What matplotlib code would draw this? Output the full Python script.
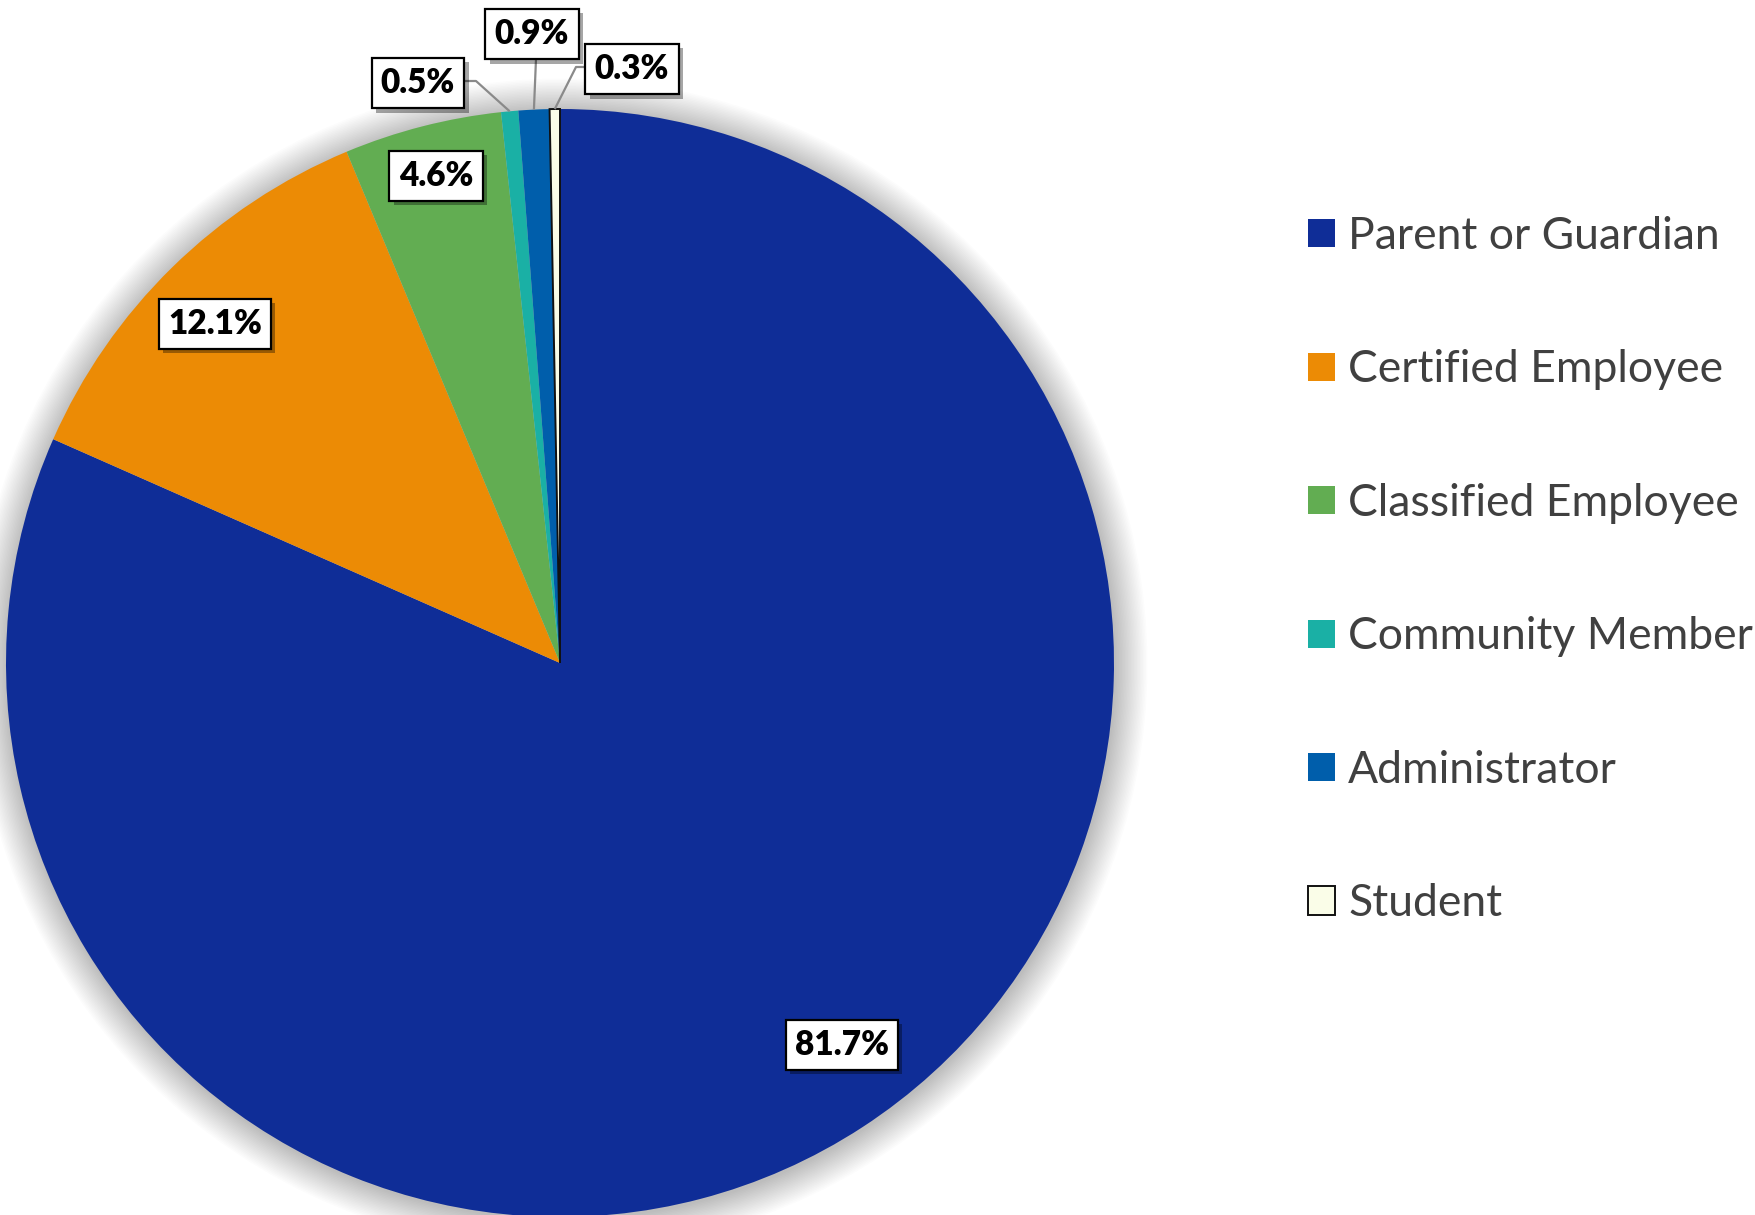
import matplotlib
matplotlib.use('Agg')
import matplotlib.pyplot as plt
from matplotlib.patches import Circle
import matplotlib.patheffects as pe
import numpy as np

categories = ["Parent or Guardian", "Certified Employee", "Classified Employee",
              "Community Member", "Administrator", "Student"]
values = [81.7, 12.1, 4.6, 0.5, 0.9, 0.3]
labels = ["81.7%", "12.1%", "4.6%", "0.5%", "0.9%", "0.3%"]
colors = ["#0F2D97", "#EC8B05", "#62AD52", "#1AB0A5", "#005EAB", "#FAFDE8"]

W, H = 1756, 1215
fig = plt.figure(figsize=(W / 100, H / 100), dpi=100)
ax = fig.add_axes([0, 0, 1, 1])

cx, cy, R = 560, H - 663, 554

# soft glow/shadow around pie
for i in range(22):
    ax.add_patch(Circle((cx + 1, cy - 2), R + 1 + i * 1.5, color='black',
                        alpha=0.010, lw=0, zorder=0))

wedges, _ = ax.pie(values, colors=colors, startangle=90, counterclock=False,
                   center=(cx, cy), radius=R, wedgeprops=dict(linewidth=0))
for w in wedges:
    w.set_zorder(2)
wedges[5].set_edgecolor('#111111')
wedges[5].set_linewidth(1.4)
wedges[5].set_zorder(3)

ax.set_xlim(0, W)
ax.set_ylim(0, H)
ax.set_aspect('equal')
ax.axis('off')

# label box centres (image coords)
label_pos = [(842, 1045), (215, 324), (436, 176), (418, 83), (532, 34), (632, 69)]
for txt, (x, y) in zip(labels, label_pos):
    t = ax.text(x, H - y, txt, ha='center', va='center', fontsize=24,
                fontweight='heavy', family='Lato', color='black', zorder=6,
                bbox=dict(boxstyle='square,pad=0.28', fc='white', ec='black', lw=1.6))
    t.get_bbox_patch().set_path_effects([
        pe.SimplePatchShadow(offset=(3, -3), shadow_rgbFace='black', alpha=0.35),
        pe.Normal()])

# leader lines for small slices
def edge_point(w):
    m = np.deg2rad((w.theta1 + w.theta2) / 2)
    return cx + R * np.cos(m), cy + R * np.sin(m)

elbows = {3: [(464, 81), (476, 81)], 4: [(536, 59)], 5: [(587, 67), (576, 67)]}
for idx, pts in elbows.items():
    ex, ey = edge_point(wedges[idx])
    xs = [p[0] for p in pts] + [ex]
    ys = [H - p[1] for p in pts] + [ey]
    ax.plot(xs, ys, color='#8a8a8a', lw=1.6, zorder=5, solid_capstyle='butt')

leg = fig.legend(wedges, categories, loc='upper left',
                 bbox_to_anchor=(1308 / W, 1 - 216 / H), frameon=False,
                 prop={'family': 'Lato', 'size': 32}, labelcolor='#404040',
                 handlelength=0.6, handleheight=0.6, handletextpad=0.3,
                 labelspacing=2.08, borderaxespad=0, borderpad=0)

fig.savefig('out.png', dpi=100, facecolor='white')
